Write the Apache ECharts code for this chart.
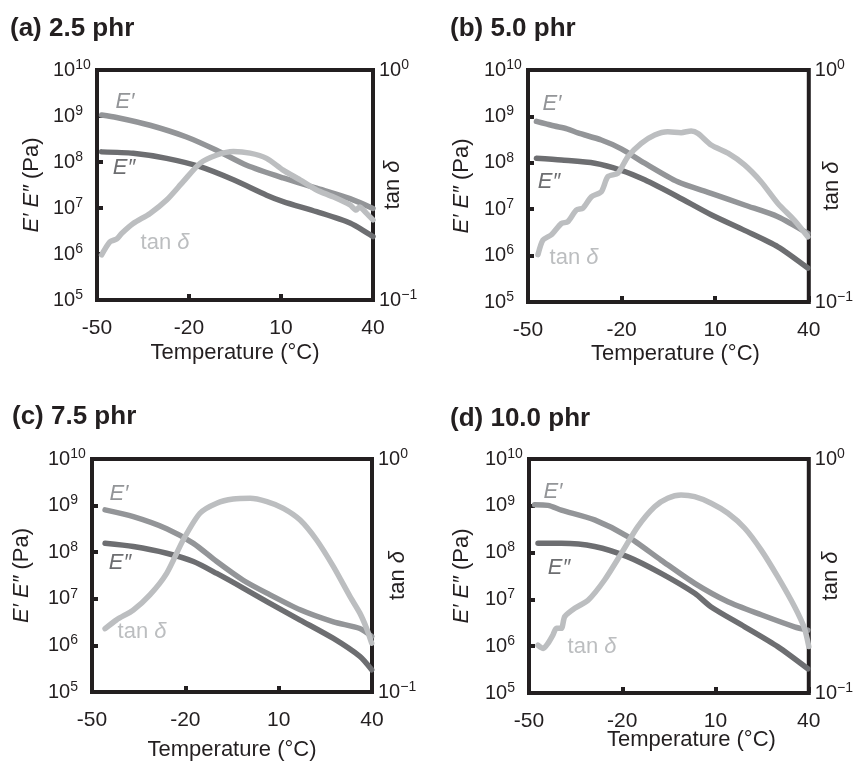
<!DOCTYPE html>
<html>
<head>
<meta charset="utf-8">
<script src="https://cdn.jsdelivr.net/npm/echarts@6/dist/echarts.min.js"></script>
<style>
  html, body { margin: 0; padding: 0; background: #ffffff; }
  #chart { width: 856px; height: 767px; }
</style>
</head>
<body>
<div id="chart"></div>
<script>
// Dynamic mechanical analysis: storage modulus E', loss modulus E'' and tan delta
// versus temperature for four filler loadings.
const panelTitles = ['(a) 2.5 phr', '(b) 5.0 phr', '(c) 7.5 phr', '(d) 10.0 phr'];
const xTickValues = [-50, -20, 10, 40];
const modulusRange = [1e5, 1e10];
const tanRange = [0.1, 1];

// [temperature °C, E' Pa]
const storage25 = [[-48.5, 1.05e9], [-43.6, 9.3e8], [-32.7, 6.3e8], [-20.8, 3.5e8], [-11.0, 1.8e8], [-1.2, 8.5e7], [10.7, 4.5e7], [21.6, 2.7e7], [32.5, 1.6e7], [40, 9.8e6]];
const loss25 = [[-48.5, 1.66e8], [-38.2, 1.55e8], [-27.3, 1.2e8], [-16.4, 7.9e7], [-5.5, 4.1e7], [5.3, 1.9e7], [10.7, 1.38e7], [21.6, 8.3e6], [32.5, 4.7e6], [40, 2.4e6]];
const tan25 = [[-48.5, 0.157], [-45.8, 0.179], [-43.6, 0.184], [-41.9, 0.195], [-38.2, 0.215], [-32.7, 0.238], [-27.3, 0.272], [-21.9, 0.327], [-16.4, 0.393], [-10.9, 0.427], [-5.5, 0.442], [-0.1, 0.435], [5.3, 0.413], [10.7, 0.367], [16.2, 0.333], [21.6, 0.301], [27.0, 0.281], [32.5, 0.259], [34.5, 0.246], [35.6, 0.254], [37.9, 0.238], [40, 0.223]];

const storage50 = [[-47.3, 7.8e8], [-44.2, 6.9e8], [-41.5, 6.2e8], [-37.5, 5.4e8], [-34.0, 4.4e8], [-26.5, 3.1e8], [-20.1, 2.0e8], [-12.6, 9.8e7], [-2.0, 3.9e7], [8.7, 2.2e7], [19.4, 1.23e7], [30.1, 6.9e6], [39.7, 3.0e6]];
const loss50 = [[-47.3, 1.26e8], [-39.3, 1.15e8], [-28.6, 9.8e7], [-20.1, 6.9e7], [-12.6, 4.3e7], [-2.0, 1.86e7], [8.7, 7.6e6], [19.4, 3.5e6], [30.1, 1.55e6], [39.7, 5.4e5]];
const tan50 = [[-46.8, 0.160], [-45.2, 0.185], [-42.5, 0.195], [-39.3, 0.218], [-37.2, 0.222], [-34.5, 0.249], [-32.4, 0.254], [-29.7, 0.284], [-26.5, 0.299], [-24.4, 0.347], [-21.2, 0.359], [-18.0, 0.423], [-13.7, 0.483], [-9.4, 0.525], [-5.2, 0.542], [-0.9, 0.537], [2.3, 0.546], [4.5, 0.533], [8.7, 0.475], [14.1, 0.438], [19.4, 0.390], [24.7, 0.330], [30.1, 0.266], [35.4, 0.225], [39.7, 0.191]];

const storage75 = [[-45.8, 8.1e8], [-36.7, 5.8e8], [-26.0, 3.2e8], [-17.4, 1.55e8], [-9.9, 6.3e7], [-1.4, 2.5e7], [6.2, 1.32e7], [16.9, 5.8e6], [27.6, 3.2e6], [36.1, 2.3e6], [39.9, 1.55e6]];
const loss75 = [[-45.8, 1.55e8], [-36.7, 1.32e8], [-26.0, 9.5e7], [-17.4, 6.3e7], [-9.9, 3.5e7], [-1.4, 1.7e7], [6.2, 8.7e6], [16.9, 3.5e6], [27.6, 1.41e6], [36.1, 5.8e5], [39.9, 3.0e5]];
const tan75 = [[-45.8, 0.187], [-42.1, 0.204], [-36.7, 0.225], [-31.4, 0.261], [-26.0, 0.323], [-20.7, 0.449], [-15.3, 0.585], [-9.9, 0.646], [-4.6, 0.673], [0.8, 0.678], [6.2, 0.656], [11.5, 0.614], [16.9, 0.547], [22.2, 0.449], [27.6, 0.345], [33.0, 0.256], [36.1, 0.218], [38.3, 0.187], [39.9, 0.162]];

const storage100 = [[-48.2, 1.05e9], [-43.9, 1.02e9], [-39.6, 8.1e8], [-28.9, 5.0e8], [-18.2, 2.2e8], [-7.5, 6.9e7], [3.3, 2.2e7], [14.0, 8.9e6], [24.7, 4.7e6], [35.4, 2.6e6], [39.7, 2.2e6]];
const loss100 = [[-47.1, 1.58e8], [-39.6, 1.58e8], [-28.9, 1.35e8], [-18.2, 8.1e7], [-7.5, 3.6e7], [3.3, 1.35e7], [8.6, 6.9e6], [19.4, 2.6e6], [30.0, 9.8e5], [39.7, 3.3e5]];
const tan100 = [[-47.1, 0.160], [-45.4, 0.155], [-43.9, 0.163], [-42.3, 0.177], [-41.2, 0.189], [-39.6, 0.189], [-38.5, 0.212], [-35.3, 0.230], [-31.0, 0.249], [-25.7, 0.304], [-20.3, 0.395], [-15.0, 0.514], [-9.6, 0.625], [-5.4, 0.679], [-1.1, 0.701], [3.3, 0.690], [8.6, 0.647], [14.0, 0.586], [19.4, 0.506], [24.7, 0.408], [30.0, 0.314], [35.4, 0.234], [38.6, 0.189], [40, 0.158]];

const panelData = [
  [storage25, loss25, tan25],
  [storage50, loss50, tan50],
  [storage75, loss75, tan75],
  [storage100, loss100, tan100]
];

const FONT = '"Liberation Sans", Arial, Helvetica, sans-serif';
const INK = '#231f20';
const colStorage = '#939598';
const colLoss = '#6d6e71';
const colTan = '#bcbec0';

// plot rectangles and label offsets for the 2x2 arrangement
const panels = [
  { left: 97, top: 70, width: 276, height: 230, yGap: 54, rGap: 9, xGap: 42, xShift: 0, title: [10, 29],
    marks: { sp: [125, 102], lo: [124, 168], tn: [165, 243] } },
  { left: 528, top: 70, width: 281, height: 232, yGap: 55, rGap: 12, xGap: 41, xShift: 14, title: [450, 29],
    marks: { sp: [552, 104], lo: [549, 182], tn: [574, 258] } },
  { left: 92, top: 459, width: 280, height: 233, yGap: 59, rGap: 15, xGap: 47, xShift: 0, title: [12, 417],
    marks: { sp: [119, 494], lo: [120, 563], tn: [142, 632] } },
  { left: 529, top: 459, width: 280, height: 234, yGap: 56, rGap: 11, xGap: 36, xShift: 45, title: [450, 419],
    marks: { sp: [553, 492], lo: [559, 568], tn: [592, 647] } }
];

function powerLabel(v) {
  const e = Math.round(Math.log10(v));
  if (Math.abs(Math.log10(v) - e) > 1e-6) return '';
  const s = e < 0 ? '\u2212' + (-e) : String(e);
  return '{b|10}{s|' + s + '}';
}
const powerRich = {
  b: { fontSize: 20, lineHeight: 24, fontFamily: FONT, color: INK },
  s: { fontSize: 14, lineHeight: 12, verticalAlign: 'top', fontFamily: FONT, color: INK }
};

const grids = [], xAxes = [], yAxes = [], series = [], graphics = [];

panels.forEach((p, i) => {
  grids.push({ left: p.left, top: p.top, width: p.width, height: p.height,
    show: true, borderColor: INK, borderWidth: 4, backgroundColor: 'transparent', containLabel: false });

  xAxes.push({
    type: 'value', gridIndex: i, min: xTickValues[0], max: xTickValues[xTickValues.length - 1], interval: 30,
    axisLine: { show: false, onZero: false },
    axisTick: { show: true, inside: true, length: 6, lineStyle: { color: INK, width: 4 } },
    splitLine: { show: false },
    axisLabel: { fontSize: 21, fontFamily: FONT, color: INK, margin: 18 },
    name: 'Temperature (°C)', nameLocation: 'middle', nameGap: p.xGap, nameMoveOverlap: false,
    nameTextStyle: { fontSize: 22, fontFamily: FONT, color: INK, padding: [0, 0, 0, p.xShift] }
  });

  yAxes.push({
    type: 'log', logBase: 10, gridIndex: i, position: 'left', min: modulusRange[0], max: modulusRange[1], interval: 1,
    axisLine: { show: false, onZero: false },
    axisTick: { show: true, inside: true, length: 6, lineStyle: { color: INK, width: 4 } },
    splitLine: { show: false },
    axisLabel: { formatter: powerLabel, rich: powerRich, align: 'left', margin: 44 },
    name: '{i|E\u2032} {i|E\u2033} (Pa)', nameLocation: 'middle', nameGap: p.yGap, nameRotate: 90, nameMoveOverlap: false,
    nameTextStyle: { fontSize: 22, fontFamily: FONT, color: INK,
      rich: { i: { fontStyle: 'italic', fontSize: 22, fontFamily: FONT, color: INK } } }
  });

  yAxes.push({
    type: 'log', logBase: 10, gridIndex: i, position: 'right', min: tanRange[0], max: tanRange[1], interval: 1,
    axisLine: { show: false, onZero: false },
    axisTick: { show: false },
    splitLine: { show: false },
    axisLabel: { formatter: powerLabel, rich: powerRich, align: 'left', margin: 6 },
    name: 'tan {i|\u03b4}', nameLocation: 'middle', nameGap: p.rGap, nameRotate: 90, nameMoveOverlap: false,
    nameTextStyle: { fontSize: 22, fontFamily: FONT, color: INK,
      rich: { i: { fontStyle: 'italic', fontSize: 22, fontFamily: FONT, color: INK } } }
  });

  const [sp, lo, tn] = panelData[i];
  const common = { type: 'line', xAxisIndex: i, showSymbol: false, symbol: 'none', smooth: 0.25, animation: false };
  series.push(Object.assign({}, common, { name: 'E\u2032', yAxisIndex: 2 * i, data: sp,
    lineStyle: { color: colStorage, width: 5.5, cap: 'round', join: 'round' }, z: 3 }));
  series.push(Object.assign({}, common, { name: 'E\u2033', yAxisIndex: 2 * i, data: lo,
    lineStyle: { color: colLoss, width: 5.5, cap: 'round', join: 'round' }, z: 3 }));
  series.push(Object.assign({}, common, { name: 'tan \u03b4', yAxisIndex: 2 * i + 1, data: tn,
    lineStyle: { color: colTan, width: 5.5, cap: 'round', join: 'round' }, z: 4 }));

  graphics.push({ type: 'text', x: p.title[0], y: p.title[1],
    style: { text: panelTitles[i], font: 'bold 26px ' + FONT, fill: INK, textAlign: 'left', textVerticalAlign: 'middle' } });
  graphics.push({ type: 'text', x: p.marks.sp[0], y: p.marks.sp[1],
    style: { text: 'E\u2032', font: 'italic 22px ' + FONT, fill: colStorage, textAlign: 'center', textVerticalAlign: 'middle' } });
  graphics.push({ type: 'text', x: p.marks.lo[0], y: p.marks.lo[1],
    style: { text: 'E\u2033', font: 'italic 22px ' + FONT, fill: colLoss, textAlign: 'center', textVerticalAlign: 'middle' } });
  graphics.push({ type: 'text', x: p.marks.tn[0], y: p.marks.tn[1],
    style: { text: 'tan {i|\u03b4}', font: '22px ' + FONT, fill: colTan, textAlign: 'center', textVerticalAlign: 'middle',
      rich: { i: { fontStyle: 'italic', fontSize: 22, fontFamily: FONT, fill: colTan } } } });
});

const chart = echarts.init(document.getElementById('chart'), null, { renderer: 'canvas' });
chart.setOption({
  animation: false,
  backgroundColor: '#ffffff',
  grid: grids,
  xAxis: xAxes,
  yAxis: yAxes,
  series: series,
  graphic: graphics
});
</script>
</body>
</html>
